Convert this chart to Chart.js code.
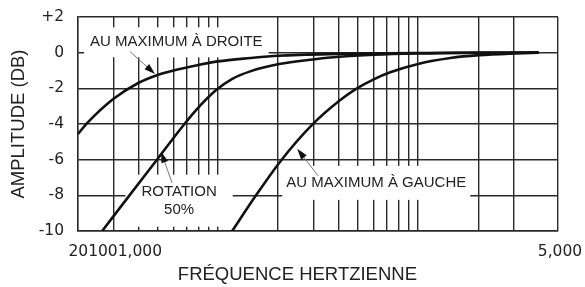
<!DOCTYPE html>
<html>
<head>
<meta charset="utf-8">
<script src="https://cdn.jsdelivr.net/npm/chart.js@4"></script>
<style>
  html, body { margin: 0; padding: 0; background: #fff; }
  #wrap { width: 585px; height: 287px; position: relative; }
</style>
</head>
<body>
<div id="wrap"><canvas id="myChart"></canvas></div>
<script>
// 頻率軸上的格線位置 (Hz)
const xGridValues = [20, 30, 40, 50, 60, 70, 80, 90, 100,
    200, 300, 400, 500, 600, 700, 800, 900, 1000, 2000, 3000, 5000];
// 原圖的刻度文字：前三個擠在左邊
const xTickLabels = ['20', '100', '1,000', '5,000'];
const yTickValues = [2, 0, -2, -4, -6, -8, -10];

// 三條曲線 (頻率 Hz, 增益 dB)
const droiteFreq = [20, 22.4, 30, 40, 50, 60, 80, 100, 145, 200, 400, 1000, 4000];
const droiteDb   = [-4.56, -3.91, -2.6, -1.7, -1.25, -1.0, -0.69, -0.49, -0.3, -0.17, -0.07, -0.02, 0];

const rotationFreq = [26.4, 36.4, 49.7, 66.2, 77.8, 98, 118, 145, 202, 299, 404, 604, 1000, 2000, 4000];
const rotationDb   = [-10, -7.96, -5.99, -4.17, -3.22, -2.1, -1.47, -1.05, -0.64, -0.38, -0.23, -0.12, -0.05, 0, 0];

const gaucheFreq = [117.8, 153.5, 205, 296, 404, 497, 604, 726, 1000, 1450, 2020, 3100, 4000];
const gaucheDb   = [-10, -8.07, -6.1, -4.04, -2.7, -1.99, -1.48, -1.1, -0.63, -0.3, -0.14, -0.04, 0];

function toPoints(freqs, dbs) {
    return freqs.map((f, i) => ({ x: f, y: dbs[i] }));
}

// 標註：文字位置、箭頭尾端與尖端都用資料座標
const notes = [
    { lines: ['AU MAXIMUM À DROITE'], at: [62, 0.58], padX: 6, padY: 10,
      tail: [36.4, 0.06], tip: [48.5, -1.2] },
    { lines: ['ROTATION', '50%'], at: [64, -8.3], padX: 16, padY: 12,
      tail: [59, -7.3], tip: [52, -5.56] },
    { lines: ['AU MAXIMUM À GAUCHE'], at: [618, -7.3], padX: 4, padY: 12,
      tail: [317, -6.91], tip: [249, -5.39] }
];
const noteFont = '15px "Liberation Sans", Arial, sans-serif';
const noteLineHeight = 18;

function noteBox(ctx, chart, n) {
    ctx.font = noteFont;
    const w = Math.max(...n.lines.map(t => ctx.measureText(t).width));
    const h = noteLineHeight * n.lines.length;
    const cx = chart.scales.x.getPixelForValue(n.at[0]);
    const cy = chart.scales.y.getPixelForValue(n.at[1]);
    return { cx, cy, w, h };
}

const notesPlugin = {
    id: 'notes',
    beforeDatasetsDraw(chart) {
        const ctx = chart.ctx;
        ctx.save();
        ctx.fillStyle = '#fff';
        notes.forEach(n => {
            const b = noteBox(ctx, chart, n);
            ctx.fillRect(b.cx - b.w / 2 - n.padX, b.cy - b.h / 2 - n.padY + 4,
                b.w + 2 * n.padX, b.h + 2 * n.padY - 8);
        });
        ctx.restore();
    },
    afterDatasetsDraw(chart) {
        const ctx = chart.ctx;
        const sx = chart.scales.x, sy = chart.scales.y;
        ctx.save();
        notes.forEach(n => {
            const b = noteBox(ctx, chart, n);
            ctx.fillStyle = '#222';
            ctx.textAlign = 'center';
            ctx.textBaseline = 'middle';
            n.lines.forEach((t, i) => {
                ctx.fillText(t, b.cx, b.cy - b.h / 2 + noteLineHeight * (i + 0.5));
            });
            // 箭頭
            const x0 = sx.getPixelForValue(n.tail[0]), y0 = sy.getPixelForValue(n.tail[1]);
            const x1 = sx.getPixelForValue(n.tip[0]), y1 = sy.getPixelForValue(n.tip[1]);
            const ang = Math.atan2(y1 - y0, x1 - x0);
            ctx.strokeStyle = '#777';
            ctx.lineWidth = 1;
            ctx.beginPath();
            ctx.moveTo(x0, y0);
            ctx.lineTo(x1 - 8 * Math.cos(ang), y1 - 8 * Math.sin(ang));
            ctx.stroke();
            ctx.fillStyle = '#111';
            ctx.beginPath();
            ctx.moveTo(x1, y1);
            ctx.lineTo(x1 - 11 * Math.cos(ang) + 3.5 * Math.sin(ang), y1 - 11 * Math.sin(ang) - 3.5 * Math.cos(ang));
            ctx.lineTo(x1 - 11 * Math.cos(ang) - 3.5 * Math.sin(ang), y1 - 11 * Math.sin(ang) + 3.5 * Math.cos(ang));
            ctx.closePath();
            ctx.fill();
        });
        ctx.restore();
    }
};

const curveStyle = {
    borderColor: '#111',
    borderWidth: 2.6,
    pointRadius: 0,
    fill: false,
    cubicInterpolationMode: 'monotone'
};

const tickFont = { family: '"DejaVu Sans", sans-serif', size: 15.5 };
const titleFont = { family: '"Liberation Sans", Arial, sans-serif', size: 18.5 };
const gridColor = '#2a2a2a';

const ctx = document.getElementById('myChart').getContext('2d');
const myChart = new Chart(ctx, {
    type: 'line',
    data: {
        datasets: [
            { label: 'AU MAXIMUM À DROITE', data: toPoints(droiteFreq, droiteDb), ...curveStyle },
            { label: 'ROTATION 50%', data: toPoints(rotationFreq, rotationDb), ...curveStyle },
            { label: 'AU MAXIMUM À GAUCHE', data: toPoints(gaucheFreq, gaucheDb), ...curveStyle }
        ]
    },
    options: {
        responsive: true,
        maintainAspectRatio: false,
        animation: false,
        layout: { padding: { left: 0, right: 27, top: 17, bottom: 0 } },
        plugins: {
            legend: { display: false },
            tooltip: { enabled: false }
        },
        scales: {
            x: {
                type: 'logarithmic',
                min: 20,
                max: 5000,
                afterBuildTicks: s => { s.ticks = xGridValues.map(v => ({ value: v })); },
                afterFit: s => {
                    s.height = 56;
                    s.paddingLeft = 0;
                    s.paddingRight = 0;
                },
                grid: { color: gridColor, lineWidth: 1.4, drawTicks: false },
                border: { color: gridColor, width: 1.4 },
                ticks: {
                    autoSkip: false,
                    maxRotation: 0,
                    padding: 12,
                    labelOffset: 2,
                    color: '#222',
                    font: tickFont,
                    callback: v => {
                        if (v === 30) return xTickLabels.slice(0, 3).join('');
                        if (v === 5000) return xTickLabels[3];
                        return '';
                    }
                },
                title: {
                    display: true,
                    text: 'FRÉQUENCE HERTZIENNE        ',
                    color: '#222',
                    font: titleFont,
                    padding: { top: 0, bottom: 1 }
                }
            },
            y: {
                min: -10,
                max: 2,
                afterBuildTicks: s => { s.ticks = yTickValues.map(v => ({ value: v })); },
                afterFit: s => {
                    s.width = 78;
                    s.paddingTop = 0;
                    s.paddingBottom = 0;
                },
                grid: { color: gridColor, lineWidth: 1.4, drawTicks: false },
                border: { color: gridColor, width: 1.4 },
                ticks: {
                    padding: 14,
                    color: '#222',
                    font: tickFont,
                    callback: v => (v > 0 ? '+' + v : String(v))
                },
                title: {
                    display: true,
                    text: 'AMPLITUDE (DB)',
                    color: '#222',
                    font: titleFont,
                    padding: { top: 8, bottom: 0 }
                }
            }
        }
    },
    plugins: [notesPlugin]
});
</script>
</body>
</html>
